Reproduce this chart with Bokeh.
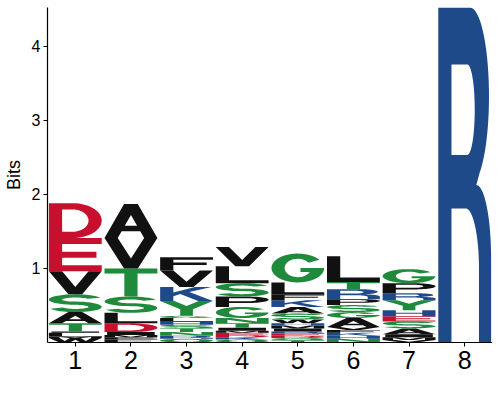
import math
from bokeh.plotting import figure
from bokeh.models import FixedTicker
from bokeh.embed import file_html
from bokeh.resources import INLINE

# ---------------- data ----------------
positions = [1, 2, 3, 4, 5, 6, 7, 8]
y_ticks = [1, 2, 3, 4]
# letters listed bottom -> top, heights in bits
pos1_letters = ["W", "M", "L", "I", "T", "A", "S", "V", "E", "D"]
pos1_bits = [0.06, 0.02, 0.05, 0.02, 0.11, 0.15, 0.24, 0.31, 0.45, 0.47]
pos2_letters = ["F", "P", "M", "I", "D", "L", "S", "T", "V", "A"]
pos2_bits = [0.04, 0.03, 0.03, 0.04, 0.12, 0.14, 0.22, 0.38, 0.41, 0.46]
pos3_letters = ["Q", "R", "N", "T", "S", "H", "L", "G", "Y", "K", "V", "F"]
pos3_bits = [0.05, 0.04, 0.05, 0.05, 0.05, 0.04, 0.05, 0.03, 0.20, 0.19, 0.22, 0.18]
pos4_letters = ["Q", "K", "D", "E", "M", "I", "T", "N", "G", "P", "S", "L", "V"]
pos4_bits = [0.04, 0.03, 0.03, 0.03, 0.03, 0.04, 0.06, 0.07, 0.15, 0.14, 0.18, 0.23, 0.26]
pos5_letters = ["T", "Q", "D", "E", "R", "I", "M", "H", "W", "S", "A", "K", "F", "L", "G"]
pos5_bits = [0.03, 0.03, 0.03, 0.03, 0.03, 0.04, 0.04, 0.03, 0.05, 0.08, 0.09, 0.09, 0.08, 0.16, 0.39]
pos6_letters = ["N", "H", "K", "F", "V", "A", "G", "S", "P", "R", "T", "L"]
pos6_bits = [0.05, 0.04, 0.04, 0.04, 0.04, 0.12, 0.08, 0.095, 0.08, 0.135, 0.095, 0.35]
pos7_letters = ["V", "M", "I", "A", "S", "E", "H", "Y", "R", "P", "G"]
pos7_bits = [0.035, 0.035, 0.04, 0.08, 0.095, 0.07, 0.08, 0.135, 0.095, 0.135, 0.19]
pos8_letters = ["R"]
pos8_bits = [4.52]

columns = [
    (pos1_letters, pos1_bits), (pos2_letters, pos2_bits),
    (pos3_letters, pos3_bits), (pos4_letters, pos4_bits),
    (pos5_letters, pos5_bits), (pos6_letters, pos6_bits),
    (pos7_letters, pos7_bits), (pos8_letters, pos8_bits),
]

# ---------------- styles ----------------
BLACK = "#111111"
GREEN = "#1f8a3b"
BLUE = "#1f4a8a"
RED = "#c8102e"
COLOR = {}
for c in "AVLIPWFM":
    COLOR[c] = BLACK
for c in "GSTYNQC":
    COLOR[c] = GREEN
for c in "KRH":
    COLOR[c] = BLUE
for c in "DE":
    COLOR[c] = RED

# ---------------- glyph outlines in a unit box ----------------
SW, TH = 0.25, 0.18


def arc(cx, cy, rx, ry, a0, a1, n=28):
    pts = []
    for i in range(n + 1):
        a = math.radians(a0 + (a1 - a0) * i / n)
        pts.append((cx + rx * math.cos(a), cy + ry * math.sin(a)))
    return pts


def area(r):
    s = 0.0
    for i in range(len(r)):
        x0, y0 = r[i]
        x1, y1 = r[(i + 1) % len(r)]
        s += x0 * y1 - x1 * y0
    return s / 2


def orient(poly):
    out = []
    for k, ring in enumerate(poly):
        a = area(ring)
        if (k == 0 and a < 0) or (k > 0 and a > 0):
            ring = ring[::-1]
        out.append(ring)
    return out


m = 0.5
SHAPES = {
    "E": [[[(0, 0), (1, 0), (1, TH), (SW, TH), (SW, m - TH / 2), (0.9, m - TH / 2),
            (0.9, m + TH / 2), (SW, m + TH / 2), (SW, 1 - TH), (1, 1 - TH), (1, 1), (0, 1)]]],
    "F": [[[(0, 0), (SW, 0), (SW, 0.42), (0.88, 0.42), (0.88, 0.42 + TH), (SW, 0.42 + TH),
            (SW, 1 - TH), (1, 1 - TH), (1, 1), (0, 1)]]],
    "L": [[[(0, 0), (1, 0), (1, TH), (SW, TH), (SW, 1), (0, 1)]]],
    "T": [[[(0.5 - SW / 2, 0), (0.5 + SW / 2, 0), (0.5 + SW / 2, 1 - TH), (1, 1 - TH), (1, 1),
            (0, 1), (0, 1 - TH), (0.5 - SW / 2, 1 - TH)]]],
    "I": [[[(0.05, 0), (0.95, 0), (0.95, 1), (0.05, 1)]]],
    "H": [[[(0, 0), (SW, 0), (SW, m - TH / 2), (1 - SW, m - TH / 2), (1 - SW, 0), (1, 0), (1, 1),
            (1 - SW, 1), (1 - SW, m + TH / 2), (SW, m + TH / 2), (SW, 1), (0, 1)]]],
    "V": [[[(0, 1), (0.37, 0), (0.63, 0), (1, 1), (0.75, 1), (0.5, 0.324), (0.25, 1)]]],
    "A": [[[(0, 0), (0.25, 0), (0.324, 0.2), (0.676, 0.2), (0.75, 0), (1, 0), (0.63, 1), (0.37, 1)],
           [(0.383, 0.36), (0.617, 0.36), (0.5, 0.676)]]],
    "Y": [[[(0, 1), (0.27, 1), (0.5, 0.66), (0.73, 1), (1, 1), (0.62, 0.45), (0.62, 0),
            (0.38, 0), (0.38, 0.45)]]],
    "K": [[[(0, 0), (SW, 0), (SW, 0.33), (0.38, 0.5), (0.72, 0), (1, 0), (0.55, 0.64), (0.97, 1),
            (0.66, 1), (SW, 0.6), (SW, 1), (0, 1)]]],
    "M": [[[(0, 0), (0.2, 0), (0.2, 0.75), (0.4, 0), (0.6, 0), (0.8, 0.75), (0.8, 0), (1, 0),
            (1, 1), (0.72, 1), (0.5, 0.3), (0.28, 1), (0, 1)]]],
    "N": [[[(0, 0), (0.22, 0), (0.22, 0.65), (0.72, 0), (1, 0), (1, 1), (0.78, 1), (0.78, 0.35),
            (0.28, 1), (0, 1)]]],
    "W": [[[(0, 1), (0.2, 0), (0.4, 0), (0.5, 0.6), (0.6, 0), (0.8, 0), (1, 1), (0.8, 1),
            (0.7, 0.35), (0.6, 1), (0.4, 1), (0.3, 0.35), (0.2, 1)]]],
    "D": [[[(0, 0), (0.45, 0)] + arc(0.45, 0.5, 0.55, 0.5, -90, 90) + [(0, 1)],
           [(SW, TH), (0.45, TH)] + arc(0.45, 0.5, 0.30, 0.5 - TH, -90, 90) + [(SW, 1 - TH)]]],
    "P": [[[(0, 0), (SW, 0), (SW, 0.38), (0.6, 0.38)] + arc(0.6, 0.69, 0.4, 0.31, -90, 90) + [(0, 1)],
           [(SW, 0.54), (0.6, 0.54)] + arc(0.6, 0.69, 0.17, 0.15, -90, 90) + [(SW, 0.84)]]],
    "R": [[[(0, 0), (SW, 0), (SW, 0.40), (0.52, 0.40)] + arc(0.52, 0.22, 0.25, 0.18, 90, 0)
           + [(0.77, 0), (1.0, 0)] + arc(0.72, 0.25, 0.28, 0.22, 0, 90)
           + arc(0.6, 0.735, 0.36, 0.265, -60, 90) + [(0, 1)],
           [(SW, 0.56), (0.55, 0.56)] + arc(0.55, 0.695, 0.14, 0.135, -90, 90) + [(SW, 0.83)]]],
    "S": [[arc(0.5, 0.705, 0.5, 0.295, 20, 270) + arc(0.5, 0.295, 0.25, 0.115, 90, -160)
           + arc(0.5, 0.295, 0.5, 0.295, -160, 90) + arc(0.5, 0.705, 0.25, 0.115, 270, 20)]],
    "G": [[arc(0.5, 0.5, 0.5, 0.5, 35, 360) + [(0.55, 0.5), (0.55, 0.36)]
           + arc(0.5, 0.5, 0.25, 0.32, -26, -325)]],
    "Q": [[arc(0.5, 0.5, 0.5, 0.5, -35, 290, 40) + [(1.0, 0.0)],
           arc(0.5, 0.5, 0.25, 0.32, 0, 360, 40)]],
}

# ---------------- build glyph geometry through the data ----------------
WIDTH = 0.95
xs, ys, cols = [], [], []
for pos, (letters, bits) in zip(positions, columns):
    base = 0.0
    for letter, h in zip(letters, bits):
        mx, my = [], []
        for poly in SHAPES[letter]:
            px, py = [], []
            for ring in orient(poly):
                px.append([pos - WIDTH / 2 + u * WIDTH for u, v in ring])
                py.append([base + v * h for u, v in ring])
            mx.append(px)
            my.append(py)
        xs.append(mx)
        ys.append(my)
        cols.append(COLOR[letter])
        base += h

p = figure(width=492, height=383, x_range=(0.5, 8.5), y_range=(0, 4.52),
           output_backend="svg", toolbar_location=None,
           min_border_left=45, min_border_right=0, min_border_top=7, min_border_bottom=41)
p.multi_polygons(xs=xs, ys=ys, fill_color=cols, line_color=None)

p.xgrid.visible = False
p.ygrid.visible = False
p.outline_line_color = None
p.background_fill_color = "white"
p.border_fill_color = "white"

p.xaxis.ticker = FixedTicker(ticks=positions)
p.yaxis.ticker = FixedTicker(ticks=y_ticks)
for ax in (p.xaxis, p.yaxis):
    ax.axis_line_color = "black"
    ax.axis_line_width = 1.2
    ax.major_tick_line_color = "black"
    ax.major_tick_in = 0
    ax.major_tick_out = 4
    ax.minor_tick_line_color = None
    ax.major_label_text_font = "Liberation Sans"
    ax.major_label_text_color = "black"
p.xaxis.major_label_text_font_size = "25px"
p.xaxis.major_label_standoff = 4
p.yaxis.major_label_text_font_size = "16px"
p.yaxis.major_label_standoff = 3
p.yaxis.axis_label = "Bits"
p.yaxis.axis_label_text_font = "Liberation Sans"
p.yaxis.axis_label_text_font_style = "normal"
p.yaxis.axis_label_text_font_size = "18px"
p.yaxis.axis_label_text_color = "black"
p.yaxis.axis_label_standoff = 5

open("out.html", "w").write(file_html(p, INLINE))
